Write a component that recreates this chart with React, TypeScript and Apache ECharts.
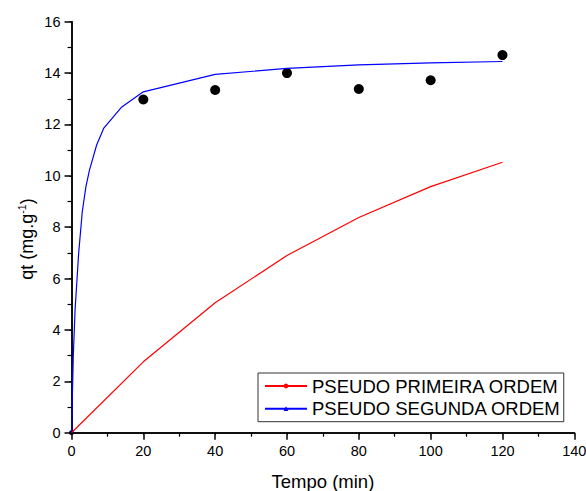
import React, { useEffect, useRef } from "react";
import * as echarts from "echarts";

const FONT = "Liberation Sans, Arial, Helvetica, sans-serif";

// Experimental points
const expTime = [0, 20, 40, 60, 80, 100, 120];
const expQt = [0, 12.97, 13.34, 14.0, 13.38, 13.72, 14.7];

// Pseudo primeira ordem (fit)
const pfoTime = [0, 20, 40, 60, 80, 100, 120];
const pfoQt = [0, 2.76, 5.06, 6.9, 8.38, 9.58, 10.53];

// Pseudo segunda ordem (fit)
const psoTime = [0, 0.5, 1, 2, 3, 4, 5, 7, 9, 14, 20, 40, 60, 80, 100, 120];
const psoQt = [0, 3.0, 4.8, 7.0, 8.6, 9.57, 10.22, 11.2, 11.86, 12.68, 13.27, 13.95, 14.18, 14.32, 14.4, 14.45];

const xTicks = { min: 0, max: 140, interval: 20 };
const yTicks = { min: 0, max: 16, interval: 2 };

const seriesNames = ["PSEUDO PRIMEIRA ORDEM", "PSEUDO SEGUNDA ORDEM"];
const xTitle = "Tempo (min)";

const zip = (a: number[], b: number[]) => a.map((v, i) => [v, b[i]]);

export default function App() {
  const ref = useRef<HTMLDivElement>(null);
  useEffect(() => {
    if (!ref.current) return;
    const chart = echarts.init(ref.current, undefined, { renderer: "svg" });
    const axisLine = { show: true, lineStyle: { color: "#000", width: 1.5 } };
    const labelStyle = { color: "#000", fontSize: 14.5, fontFamily: FONT };
    const expData = zip(expTime, expQt).map((p) =>
      p[0] === 0 && p[1] === 0 ? { value: p, symbolSize: 5 } : { value: p }
    );
    chart.setOption({
      animation: false,
      backgroundColor: "#fff",
      grid: {
        left: 71.5,
        right: 11.7,
        top: 21.7,
        bottom: 58.3,
        containLabel: false,
        outerBoundsMode: "none",
      },
      xAxis: [
        {
          type: "value",
          min: xTicks.min,
          max: xTicks.max,
          interval: xTicks.interval,
          position: "bottom",
          name: xTitle,
          nameLocation: "middle",
          nameGap: 39,
          nameTextStyle: { color: "#000", fontSize: 18.5, fontFamily: FONT },
          axisLine,
          axisTick: { show: true, inside: false, length: 7, lineStyle: { color: "#000", width: 1.5 } },
          minorTick: { show: true, splitNumber: 2, length: 4, lineStyle: { color: "#000", width: 1.2 } },
          axisLabel: { ...labelStyle, margin: 11 },
          splitLine: { show: false },
        },
        {
          type: "value",
          min: xTicks.min,
          max: xTicks.max,
          interval: xTicks.interval,
          position: "top",
          axisLine,
          axisTick: { show: true, inside: true, length: 2, lineStyle: { color: "#000", width: 1 } },
          minorTick: { show: true, splitNumber: 2, length: 1.5, lineStyle: { color: "#000", width: 1 } },
          axisLabel: { show: false },
          splitLine: { show: false },
        },
      ],
      yAxis: [
        {
          type: "value",
          min: yTicks.min,
          max: yTicks.max,
          interval: yTicks.interval,
          position: "left",
          axisLine,
          axisTick: { show: true, inside: false, length: 7, lineStyle: { color: "#000", width: 1.5 } },
          minorTick: { show: true, splitNumber: 2, length: 4, lineStyle: { color: "#000", width: 1.2 } },
          axisLabel: { ...labelStyle, margin: 11 },
          splitLine: { show: false },
        },
        {
          type: "value",
          min: yTicks.min,
          max: yTicks.max,
          interval: yTicks.interval,
          position: "right",
          axisLine,
          axisTick: { show: true, inside: true, length: 2, lineStyle: { color: "#000", width: 1 } },
          minorTick: { show: true, splitNumber: 2, length: 1.5, lineStyle: { color: "#000", width: 1 } },
          axisLabel: { show: false },
          splitLine: { show: false },
        },
      ],
      legend: {
        data: seriesNames,
        orient: "vertical",
        left: 258,
        top: 373,
        padding: [3, 3, 3, 6],
        itemWidth: 42,
        itemHeight: 6,
        itemGap: 2.7,
        borderColor: "#333",
        borderWidth: 1,
        backgroundColor: "#fff",
        textStyle: { color: "#000", fontSize: 18.5, fontFamily: FONT, lineHeight: 20 },
      },
      graphic: [
        {
          type: "text",
          x: 27,
          y: 239,
          rotation: Math.PI / 2,
          style: {
            text: "{a|qt (mg.g}{b|-1}{a|)}",
            align: "center",
            verticalAlign: "middle",
            fill: "#000",
            rich: {
              a: { fontSize: 18, fontFamily: FONT, fill: "#000", lineHeight: 22 },
              b: { fontSize: 10.5, fontFamily: FONT, fill: "#000", verticalAlign: "top", lineHeight: 22, padding: [0, 0, 8, 0] },
            },
          },
        },
      ],
      series: [
        {
          name: "Experimental",
          type: "scatter",
          data: expData,
          symbol: "circle",
          symbolSize: 10,
          itemStyle: { color: "#000", opacity: 1 },
          clip: true,
          z: 1,
        },
        {
          name: seriesNames[0],
          type: "line",
          data: zip(pfoTime, pfoQt),
          symbol: "circle",
          showSymbol: false,
          lineStyle: { color: "#ff0000", width: 1.2 },
          itemStyle: { color: "#ff0000" },
          z: 3,
        },
        {
          name: seriesNames[1],
          type: "line",
          data: zip(psoTime, psoQt),
          symbol: "triangle",
          showSymbol: false,
          lineStyle: { color: "#0000ff", width: 1.2 },
          itemStyle: { color: "#0000ff" },
          z: 3,
        },
      ],
    });
    return () => chart.dispose();
  }, []);
  return (
    <div
      ref={ref}
      style={{ position: "absolute", left: 0, top: 0, width: 586, height: 491 }}
    />
  );
}
